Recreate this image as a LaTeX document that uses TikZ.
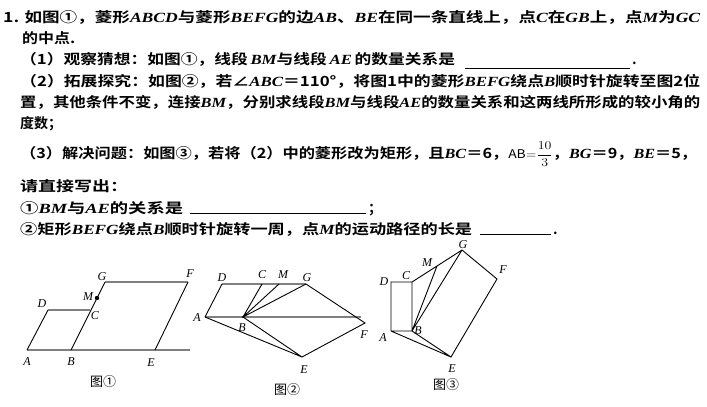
\documentclass[tikz,border=0pt]{standalone}
\usepackage{fontspec}
\usepackage{graphicx}
\setmainfont{Noto Sans CJK SC}[BoldFont={* Bold}]
\newfontfamily\lat{Liberation Serif}
\newcommand{\LL}[1]{{\lat\bfseries\itshape #1}}
\begin{document}
\begin{tikzpicture}[x=1pt,y=-1pt,
  ln/.style={anchor=base west,inner sep=0pt,font=\fontsize{14}{14}\selectfont\bfseries},
  lb/.style={inner sep=0pt,font=\fontsize{12}{12}\selectfont\lat\itshape},
  figcap/.style={inner sep=0pt,font=\fontsize{13}{13}\selectfont},
  seg/.style={line width=0.9pt},
  gseg/.style={line width=1.5pt,gray}]
\useasboundingbox (0,0) rectangle (707,407);
\fill[white] (0,0) rectangle (707,407);
% text
\node[ln] (t1) at (3,22) {\resizebox{697pt}{\height}{1. 如图①，菱形\LL{ABCD}与菱形\LL{BEFG}的边\LL{AB}、\LL{BE}在同一条直线上，点\LL{C}在\LL{GB}上，点\LL{M}为\LL{GC}}};
\node[ln] (t2) at (22,43) {\resizebox{53pt}{\height}{的中点.}};
\node[ln] (t3) at (20,64) {\resizebox{435pt}{\height}{（1）观察猜想：如图①，线段\,\LL{BM}与线段\,\LL{AE}\,的数量关系是}};
\node[ln] (t3b) at (632,64) {.};
\node[ln] (t4) at (20,86) {\resizebox{680pt}{\height}{（2）拓展探究：如图②，若∠\LL{ABC}＝110°，将图1中的菱形\LL{BEFG}绕点\LL{B}顺时针旋转至图2位}};
\node[ln] (t5) at (20,107) {\resizebox{680pt}{\height}{置，其他条件不变，连接\LL{BM}，分别求线段\LL{BM}与线段\LL{AE}的数量关系和这两线所形成的较小角的}};
\node[ln] (t6) at (20,128) {\resizebox{42pt}{\height}{度数；}};
\node[ln] (t7) at (20,158) {\resizebox{677pt}{\height}{（3）解决问题：如图③，若将（2）中的菱形改为矩形，且\LL{BC}＝6，{\normalfont\fontsize{12}{12}\selectfont$\mathrm{AB{=}}\displaystyle\frac{10}{3}$}，\LL{BG}＝9，\LL{BE}＝5，}};
\node[ln] (t8) at (20,191) {\resizebox{108pt}{\height}{请直接写出：}};
\node[ln] (t9) at (20,213) {\resizebox{163pt}{\height}{①\LL{BM}与\LL{AE}的关系是}};
\node[ln] (t9b) at (368,213) {；};
\node[ln] (t10) at (20,234) {\resizebox{452pt}{\height}{②矩形\LL{BEFG}绕点\LL{B}顺时针旋转一周，点\LL{M}的运动路径的长是}};
\node[ln] (t10b) at (553,234) {.};
\coordinate (u1a) at (465,68); \coordinate (u1b) at (630,68);
\coordinate (u2a) at (190,213); \coordinate (u2b) at (366,213);
\coordinate (u3a) at (480,234); \coordinate (u3b) at (551,234);
\draw[line width=0.9pt] (u1a)--(u1b) (u2a)--(u2b) (u3a)--(u3b);
% figure 1
\coordinate (A1) at (27,350); \coordinate (B1) at (71,350); \coordinate (E1) at (155,350);
\coordinate (L1) at (190,350); \coordinate (C1) at (90,310); \coordinate (D1) at (48,310);
\coordinate (G1) at (105,282); \coordinate (F1) at (188,282); \coordinate (M1) at (97,298);
\draw[gseg] (A1)--(L1) (D1)--(C1) (G1)--(F1);
\draw[seg] (A1)--(D1) (B1)--(G1) (F1)--(E1);
\fill (M1) circle (2.2pt);
\node[lb] at (27,362) {A}; \node[lb] at (71,362) {B}; \node[lb] at (151,363) {E};
\node[lb] at (42,304) {D}; \node[lb] at (95,316) {C}; \node[lb] at (88,297) {M};
\node[lb] at (102,277) {G}; \node[lb] at (190,274) {F};
\node[figcap] at (103,382) {图①};
% figure 2
\coordinate (A2) at (205,317); \coordinate (B2) at (243,317); \coordinate (L2) at (361,317);
\coordinate (D2) at (222,284); \coordinate (G2) at (306,284); \coordinate (C2) at (262,284);
\coordinate (M2) at (279,284); \coordinate (F2) at (365,323); \coordinate (E2) at (302,357);
\draw[gseg] (D2)--(G2) (A2)--(L2);
\draw[seg] (A2)--(D2) (B2)--(C2) (B2)--(M2) (B2)--(G2) (G2)--(F2)--(E2)--(B2) (A2)--(E2);
\fill (B2) circle (1.2pt);
\node[lb] at (222,278) {D}; \node[lb] at (262,275) {C}; \node[lb] at (283,275) {M};
\node[lb] at (307,278) {G}; \node[lb] at (197,318) {A}; \node[lb] at (242,328) {B};
\node[lb] at (364,335) {F}; \node[lb] at (304,370) {E};
\node[figcap] at (287,390) {图②};
% figure 3
\coordinate (D3) at (391,282); \coordinate (C3) at (412,282); \coordinate (B3) at (412,331);
\coordinate (A3) at (391,331); \coordinate (G3) at (462,250); \coordinate (F3) at (497,279);
\coordinate (E3) at (451,357); \coordinate (M3) at (437,266);
\draw[seg] (D3)--(C3)--(B3)--(A3)--cycle (C3)--(G3) (B3)--(M3) (B3)--(G3)
  (G3)--(F3)--(E3)--(B3) (A3)--(E3);
\node[lb] at (384,282) {D}; \node[lb] at (406,276) {C}; \node[lb] at (427,263) {M};
\node[lb] at (463,245) {G}; \node[lb] at (503,270) {F}; \node[lb] at (383,338) {A};
\node[lb] at (418,331) {B}; \node[lb] at (452,369) {E};
\node[figcap] at (446,385) {图③};
\end{tikzpicture}
\end{document}
